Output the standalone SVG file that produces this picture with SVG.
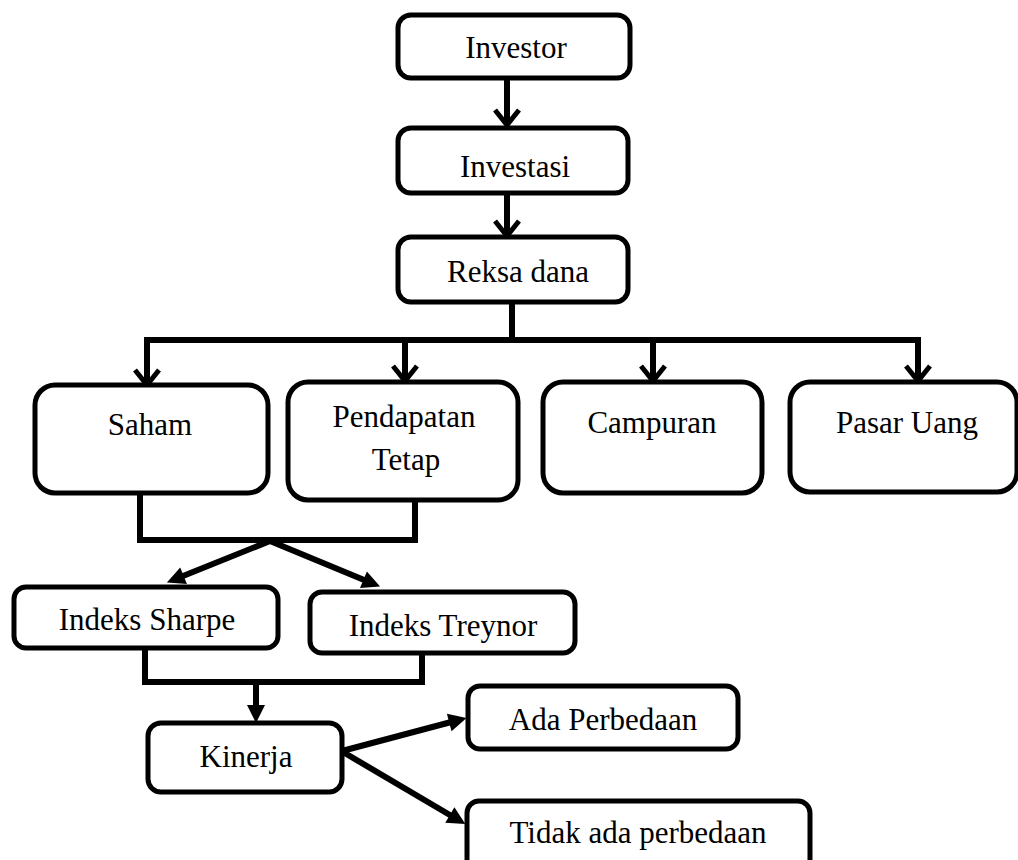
<svg xmlns="http://www.w3.org/2000/svg" width="1018" height="860" viewBox="0 0 1018 860">
<style>
.box{fill:#fff;stroke:#000;stroke-width:5}
.t{font-family:"Liberation Serif","Times New Roman",serif;font-size:31px;fill:#000;text-anchor:middle}
.c{stroke:#000;stroke-width:6;fill:none}
</style>
<defs>
<marker id="open" markerUnits="userSpaceOnUse" viewBox="-20 -16 24 32" markerWidth="24" markerHeight="32" refX="0" refY="0" orient="auto">
<path d="M-15,-12 L0,0 L-15,12" fill="none" stroke="#000" stroke-width="5"/>
</marker>
<marker id="tri" markerUnits="userSpaceOnUse" viewBox="-10 -12 24 24" markerWidth="24" markerHeight="24" refX="0" refY="0" orient="auto">
<path d="M-6,-9 L12,0 L-6,9 Z" fill="#000"/>
</marker>
</defs>
<rect width="1018" height="860" fill="#fff"/>
<g id="connectors">
<line class="c" x1="507" y1="78" x2="507" y2="125" marker-end="url(#open)"/>
<line class="c" x1="507" y1="193" x2="507" y2="236" marker-end="url(#open)"/>
<line class="c" x1="512" y1="302" x2="512" y2="343"/>
<line class="c" x1="144" y1="340" x2="921" y2="340"/>
<line class="c" x1="147" y1="340" x2="147" y2="385" marker-end="url(#open)"/>
<line class="c" x1="405" y1="340" x2="405" y2="381" marker-end="url(#open)"/>
<line class="c" x1="653" y1="340" x2="653" y2="381" marker-end="url(#open)"/>
<line class="c" x1="918" y1="337" x2="918" y2="381" marker-end="url(#open)"/>
<polyline class="c" points="140,493 140,540 415,540 415,500"/>
<line class="c" x1="270" y1="541" x2="178" y2="578" marker-end="url(#tri)"/>
<line class="c" x1="270" y1="541" x2="369" y2="582" marker-end="url(#tri)"/>
<polyline class="c" points="145,648 145,682 422,682 422,653"/>
<line class="c" x1="256" y1="684" x2="256" y2="711" marker-end="url(#tri)"/>
<line class="c" x1="342" y1="751" x2="455" y2="721" marker-end="url(#tri)"/>
<line class="c" x1="343" y1="752" x2="455" y2="818" marker-end="url(#tri)"/>
</g>
<g id="investor"><rect class="box" x="398" y="15" width="232" height="63" rx="13"/><text class="t" x="516" y="58">Investor</text></g>
<g id="investasi"><rect class="box" x="398" y="128" width="230" height="65" rx="13"/><text class="t" x="515" y="177">Investasi</text></g>
<g id="reksadana"><rect class="box" x="398" y="237" width="230" height="65" rx="13"/><text class="t" x="518" y="282">Reksa dana</text></g>
<g id="saham"><rect class="box" x="35" y="385" width="233" height="108" rx="20"/><text class="t" x="150" y="435">Saham</text></g>
<g id="pendapatan"><rect class="box" x="288" y="382" width="230" height="118" rx="20"/><text class="t" x="404" y="427">Pendapatan</text><text class="t" x="406" y="470">Tetap</text></g>
<g id="campuran"><rect class="box" x="543" y="382" width="219" height="111" rx="20"/><text class="t" x="652" y="433">Campuran</text></g>
<g id="pasaruang"><rect class="box" x="790" y="382" width="227" height="110" rx="20"/><text class="t" x="907" y="433">Pasar Uang</text></g>
<g id="sharpe"><rect class="box" x="14" y="587" width="264" height="61" rx="12"/><text class="t" x="147" y="630">Indeks Sharpe</text></g>
<g id="treynor"><rect class="box" x="310" y="592" width="265" height="61" rx="12"/><text class="t" x="443" y="636">Indeks Treynor</text></g>
<g id="kinerja"><rect class="box" x="148" y="723" width="194" height="69" rx="13"/><text class="t" x="246" y="767">Kinerja</text></g>
<g id="ada"><rect class="box" x="468" y="686" width="270" height="63" rx="12"/><text class="t" x="603" y="730">Ada Perbedaan</text></g>
<g id="tidak"><rect class="box" x="467" y="801" width="343" height="70" rx="12"/><text class="t" x="638" y="843">Tidak ada perbedaan</text></g>
</svg>
